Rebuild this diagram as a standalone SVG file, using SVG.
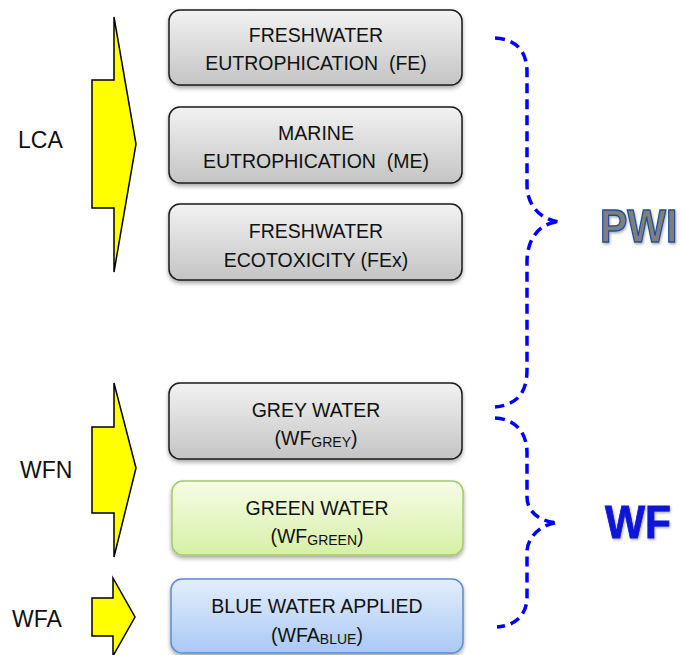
<svg xmlns="http://www.w3.org/2000/svg" width="681" height="655" viewBox="0 0 681 655">
<defs>
<linearGradient id="gGrey" x1="0" y1="0" x2="0" y2="1">
<stop offset="0" stop-color="#f2f2f2"/><stop offset="1" stop-color="#c4c4c4"/>
</linearGradient>
<linearGradient id="gGreen" x1="0" y1="0" x2="0" y2="1">
<stop offset="0" stop-color="#f6fce6"/><stop offset="1" stop-color="#d6f0a6"/>
</linearGradient>
<linearGradient id="gBlue" x1="0" y1="0" x2="0" y2="1">
<stop offset="0" stop-color="#e4eefc"/><stop offset="1" stop-color="#a9c9f5"/>
</linearGradient>
<filter id="sh" x="-10%" y="-20%" width="120%" height="150%">
<feDropShadow dx="0" dy="2.5" stdDeviation="2" flood-color="#000" flood-opacity="0.35"/>
</filter>
<filter id="tsh" x="-10%" y="-10%" width="130%" height="130%">
<feDropShadow dx="1" dy="1.5" stdDeviation="1" flood-color="#000" flood-opacity="0.3"/>
</filter>
</defs>
<style>
.box{stroke-width:1.5;filter:url(#sh)}
.grey{fill:url(#gGrey);stroke:#1a1a1a}
.green{fill:url(#gGreen);stroke:#a6ca68}
.blue{fill:url(#gBlue);stroke:#5b8bd1}
.t{font-family:"Liberation Sans",Arial,sans-serif;font-size:19.5px;fill:#111;text-anchor:middle}
.sub{font-size:14px}
.lbl{font-family:"Liberation Sans",Arial,sans-serif;font-size:23px;fill:#111}
.arrow{fill:#ffff00;stroke:#000;stroke-width:1.5;stroke-linejoin:miter}
.brace{fill:none;stroke:#0000ff;stroke-width:3.5;stroke-dasharray:10 6}
</style>

<g id="lca">
<polygon class="arrow" points="92,80 114,80 114,17 136,144 114,272 114,208 92,208"/>
<text class="lbl" x="18" y="148">LCA</text>
</g>
<g id="wfn">
<polygon class="arrow" points="92,427 114,427 114,383 136,468 114,557 114,513 92,513"/>
<text class="lbl" x="20" y="478">WFN</text>
</g>
<g id="wfa">
<polygon class="arrow" points="92,598 113,598 113,578 135,617 113,656 113,636 92,636"/>
<text class="lbl" x="12" y="627">WFA</text>
</g>

<g id="fe">
<rect class="box grey" x="169" y="10" width="293" height="75" rx="11"/>
<text class="t" x="316" y="42">FRESHWATER</text>
<text class="t" x="316" y="70" xml:space="preserve">EUTROPHICATION  (FE)</text>
</g>
<g id="me">
<rect class="box grey" x="169" y="107" width="293" height="76" rx="11"/>
<text class="t" x="316" y="140">MARINE</text>
<text class="t" x="316" y="168" xml:space="preserve">EUTROPHICATION  (ME)</text>
</g>
<g id="fex">
<rect class="box grey" x="169" y="204" width="293" height="76" rx="11"/>
<text class="t" x="316" y="238">FRESHWATER</text>
<text class="t" x="316" y="267">ECOTOXICITY (FEx)</text>
</g>
<g id="grey">
<rect class="box grey" x="169" y="383" width="293" height="76" rx="11"/>
<text class="t" x="316" y="417">GREY WATER</text>
<text class="t" x="316" y="445">(WF<tspan class="sub" dy="2">GREY</tspan><tspan dy="-2">)</tspan></text>
</g>
<g id="green">
<rect class="box green" x="172" y="481" width="291" height="74" rx="11"/>
<text class="t" x="317" y="515">GREEN WATER</text>
<text class="t" x="317" y="543">(WF<tspan class="sub" dy="2">GREEN</tspan><tspan dy="-2">)</tspan></text>
</g>
<g id="blue">
<rect class="box blue" x="171" y="579" width="292" height="74" rx="11"/>
<text class="t" x="317" y="613">BLUE WATER APPLIED</text>
<text class="t" x="317" y="642">(WFA<tspan class="sub" dy="2">BLUE</tspan><tspan dy="-2">)</tspan></text>
</g>

<g id="connectors">
<path class="brace" d="M495,38 C515,39 527,50 527,72 L527,185 C527,205 540,220 560,222 M556,222 C540,224 527,238 527,262 L527,370 C527,395 515,405 495,407"/>
<path class="brace" d="M495,418 C515,419 527,432 527,453 L527,497 C527,512 540,522 559,523 M555,523 C540,525 527,538 527,552 L527,597 C527,615 515,626 497,627"/>
</g>

<g id="pwi">
<text transform="translate(600,242) scale(1,1.14)" x="0" y="0" font-family="'Liberation Sans',Arial,sans-serif" font-weight="bold" font-size="41" fill="#7f7f7f" stroke="#1f4e9c" stroke-width="1.2" filter="url(#tsh)">PWI</text>
</g>
<g id="wf">
<text x="605" y="538" font-family="'Liberation Sans',Arial,sans-serif" font-weight="bold" font-size="47" fill="#0a14d6" stroke="#0a14d6" stroke-width="0.8" textLength="66" lengthAdjust="spacingAndGlyphs" filter="url(#tsh)">WF</text>
</g>
</svg>
